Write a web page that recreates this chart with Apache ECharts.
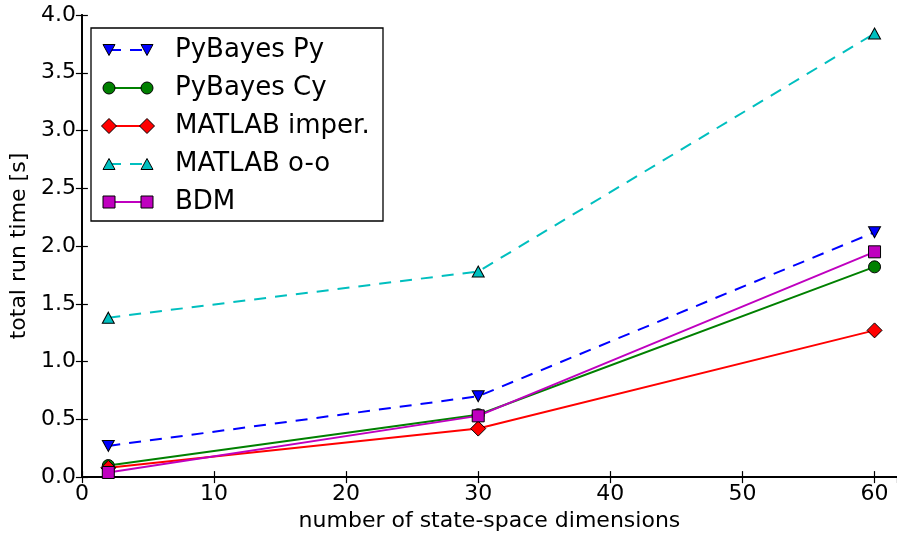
<!DOCTYPE html>
<html>
<head>
<meta charset="utf-8">
<script src="https://cdn.jsdelivr.net/npm/echarts@6/dist/echarts.min.js"></script>
<style>
html,body{margin:0;padding:0;background:#fff;}
#c{width:897px;height:537px;}
</style>
</head>
<body>
<div id="c"></div>
<script>
// ---- data ----
var dims = [2, 30, 60];
var seriesNames = ['PyBayes Py', 'PyBayes Cy', 'MATLAB imper.', 'MATLAB o-o', 'BDM'];
var pyBayesPy   = [0.27, 0.70, 2.12];
var pyBayesCy   = [0.10, 0.54, 1.82];
var matlabImper = [0.08, 0.42, 1.27];
var matlabOO    = [1.38, 1.78, 3.84];
var bdm         = [0.04, 0.53, 1.95];
var xTicks = [0, 10, 20, 30, 40, 50, 60];
var yTicks = [0.0, 0.5, 1.0, 1.5, 2.0, 2.5, 3.0, 3.5, 4.0];

// ---- styles ----
var FONT = 'DejaVu Sans';
var styles = [
  {color:'#0000ff', dash:[12,9], symbol:'triangle', rot:180, size:[12,11], mk:'tridown'},
  {color:'#008000', dash:null,   symbol:'circle',   rot:0,   size:12,      mk:'circle'},
  {color:'#ff0000', dash:null,   symbol:'diamond',  rot:0,   size:15,      mk:'diamond'},
  {color:'#00bfbf', dash:[12,9], symbol:'triangle', rot:0,   size:[12,11], mk:'triup'},
  {color:'#bf00bf', dash:null,   symbol:'rect',     rot:0,   size:12,      mk:'square'}
];
var values = [pyBayesPy, pyBayesCy, matlabImper, matlabOO, bdm];

function pairs(ys){ return dims.map(function(x,i){ return [x, ys[i]]; }); }

var series = values.map(function(ys, i){
  var s = styles[i];
  return {
    name: seriesNames[i],
    type: 'line',
    xAxisIndex: 0, yAxisIndex: 0,
    data: pairs(ys),
    symbol: s.symbol,
    symbolRotate: s.rot,
    symbolSize: s.size,
    showAllSymbol: true,
    clip: false,
    z: 2 + i,
    lineStyle: {color: s.color, width: 2, type: s.dash ? s.dash : 'solid'},
    itemStyle: {color: s.color, borderColor: '#000', borderWidth: 1},
    emphasis: {disabled: true}
  };
});

// ---- legend (drawn as graphic) ----
function marker(kind, cx, cy, color){
  var st = {fill: color, stroke: '#000', lineWidth: 1};
  if (kind === 'circle') return {type:'circle', shape:{cx:cx, cy:cy, r:6}, style:st, z:101};
  if (kind === 'square') return {type:'rect', shape:{x:cx-6, y:cy-6, width:12, height:12}, style:st, z:101};
  if (kind === 'diamond') return {type:'polygon', shape:{points:[[cx,cy-7.5],[cx+7.5,cy],[cx,cy+7.5],[cx-7.5,cy]]}, style:st, z:101};
  if (kind === 'triup') return {type:'polygon', shape:{points:[[cx,cy-5.5],[cx+6,cy+5.5],[cx-6,cy+5.5]]}, style:st, z:101};
  return {type:'polygon', shape:{points:[[cx-6,cy-5.5],[cx+6,cy-5.5],[cx,cy+5.5]]}, style:st, z:101};
}
var legendEls = [{
  type:'rect', shape:{x:91, y:28, width:292, height:193},
  style:{fill:'#fff', stroke:'#000', lineWidth:1.3}, z:100
}];
var rowY = [50, 88, 126, 164, 202];
seriesNames.forEach(function(n, i){
  var s = styles[i], cy = rowY[i];
  legendEls.push({type:'line', shape:{x1:109, y1:cy, x2:147, y2:cy},
    style:{stroke:s.color, lineWidth:2, lineDash:s.dash || null}, z:101});
  legendEls.push(marker(s.mk, 109, cy, s.color));
  legendEls.push(marker(s.mk, 147, cy, s.color));
  legendEls.push({type:'text', x:175, y:cy, z:101,
    style:{text:n, fontFamily:FONT, fontSize:26, fill:'#000', verticalAlign:'middle', align:'left'}});
});

var axisLineStyle = {color:'#000', width:1.8};
var chart = echarts.init(document.getElementById('c'));
chart.setOption({
  animation: false,
  backgroundColor: '#fff',
  grid: {left:78, top:15, right:-2, bottom:55, containLabel:false},
  xAxis: [{
    type:'value', min:0, max:61.7, interval:10, position:'bottom',
    name:'number of state-space dimensions', nameLocation:'middle', nameGap:27,
    nameTextStyle:{fontFamily:FONT, fontSize:22, color:'#000'},
    axisLine:{show:true, lineStyle:axisLineStyle},
    axisTick:{show:true, inside:true, length:6, lineStyle:{color:'#000', width:1.2}},
    axisLabel:{show:true, margin:6, fontFamily:FONT, fontSize:22, color:'#000', showMaxLabel:false,
      formatter:function(v){ return xTicks.indexOf(v) >= 0 ? String(v) : ''; }},
    splitLine:{show:false}
  },{
    type:'value', min:0, max:61.7, interval:10, position:'top',
    axisLine:{show:true, lineStyle:axisLineStyle},
    axisTick:{show:true, inside:true, length:6, lineStyle:{color:'#000', width:1.2}},
    axisLabel:{show:false}, splitLine:{show:false}
  }],
  yAxis: [{
    type:'value', min:0, max:4, interval:0.5, position:'left',
    name:'total run time [s]', nameLocation:'middle', nameGap:45, nameRotate:90,
    nameTextStyle:{fontFamily:FONT, fontSize:22, color:'#000'},
    axisLine:{show:true, lineStyle:axisLineStyle},
    axisTick:{show:true, inside:true, length:6, lineStyle:{color:'#000', width:1.2}},
    axisLabel:{show:true, margin:6, fontFamily:FONT, fontSize:22, color:'#000',
      formatter:function(v){ return yTicks.indexOf(v) >= 0 ? v.toFixed(1) : ''; }},
    splitLine:{show:false}
  },{
    type:'value', min:0, max:4, interval:0.5, position:'right',
    axisLine:{show:true, lineStyle:axisLineStyle},
    axisTick:{show:true, inside:true, length:6, lineStyle:{color:'#000', width:1.2}},
    axisLabel:{show:false}, splitLine:{show:false}
  }],
  series: series,
  graphic: legendEls
});
</script>
</body>
</html>
